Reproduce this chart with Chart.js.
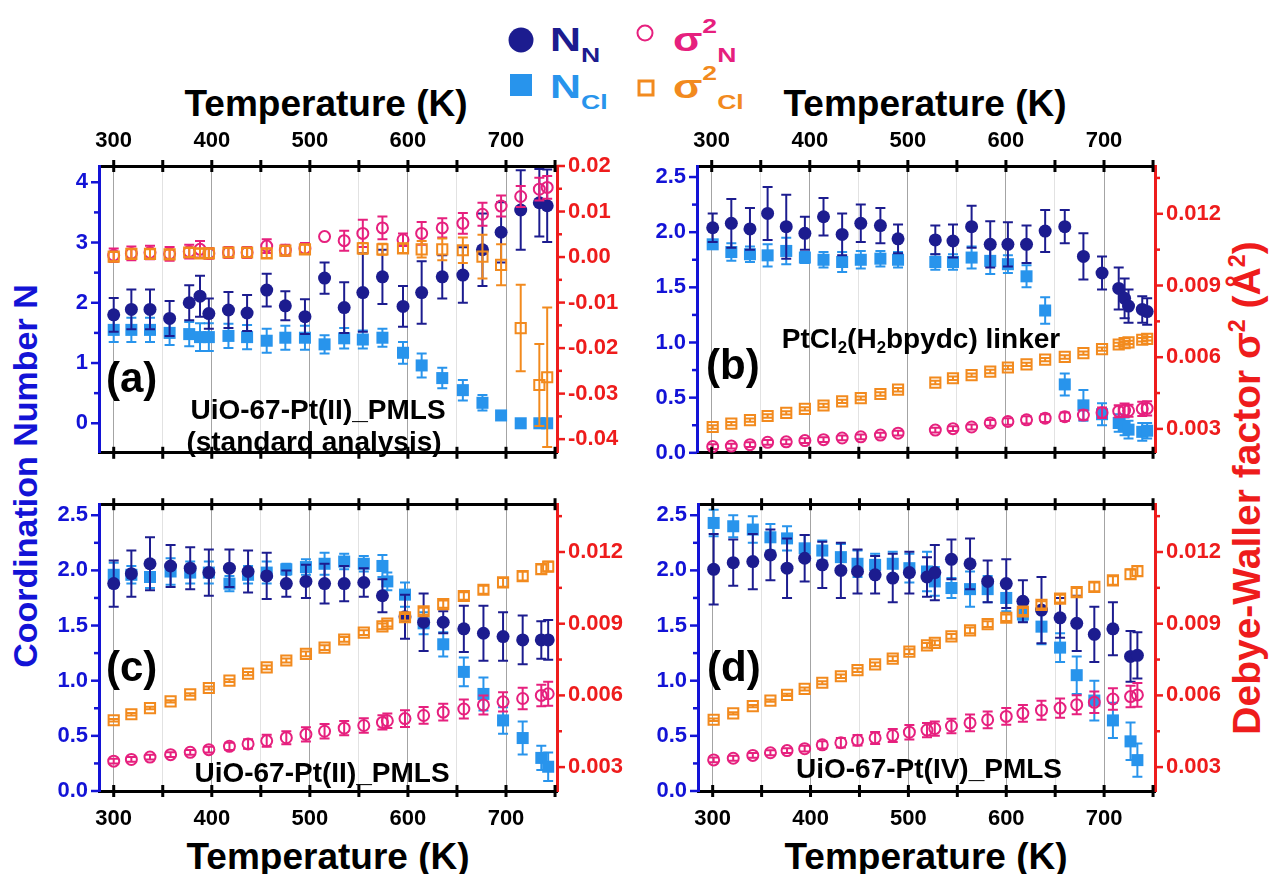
<!DOCTYPE html>
<html lang="en">
<head>
<meta charset="utf-8">
<title>UiO-67-Pt EXAFS fit parameters</title>
<script src="https://cdn.jsdelivr.net/npm/chart.js@4.4.1/dist/chart.umd.min.js"></script>
<style>
  html, body { margin: 0; padding: 0; background: #fff; }
  body { position: relative; width: 1271px; height: 874px; overflow: hidden;
         font-family: "Liberation Sans", Arial, sans-serif; font-weight: bold; }
  canvas { position: absolute; }
  .txt { position: absolute; white-space: nowrap; line-height: 1; transform: translate(-50%, -50%); color: #000; }
  .ttl { font-size: 37px; }
  .tag { font-size: 42px; transform: translate(0, -50%); }
  .name { font-size: 28px; }
  .vert { transform: translate(-50%, -50%) rotate(-90deg); }
  sub { font-size: 0.6em; vertical-align: -0.3em; line-height: 0; }
  sup { font-size: 0.6em; vertical-align: 0.6em; line-height: 0; }
  .leg { position: absolute; font-size: 33px; line-height: 1; white-space: nowrap;
         transform: translateY(-50%) scaleX(1.3); transform-origin: 0 50%; }
  .leg sub { font-size: 0.62em; vertical-align: -0.55em; }
  .leg sup { font-size: 0.62em; vertical-align: 0.85em; }
  .sym { position: absolute; transform: translate(-50%, -50%); box-sizing: border-box; }
</style>
</head>
<body>

<!-- legend -->
<div class="sym" style="left:521px;top:40px;width:25px;height:25px;border-radius:50%;background:#1c1c8f"></div>
<div class="leg" style="left:550px;top:39px;color:#1c1c8f">N<sub>N</sub></div>
<div class="sym" style="left:645px;top:33px;width:17px;height:17px;border-radius:50%;border:2.5px solid #e6207e"></div>
<div class="leg" style="left:673px;top:39px;color:#e6207e">σ<sup>2</sup><sub>N</sub></div>
<div class="sym" style="left:521px;top:85px;width:22px;height:22px;background:#2894ec"></div>
<div class="leg" style="left:550px;top:86px;color:#2894ec">N<sub>Cl</sub></div>
<div class="sym" style="left:646px;top:88px;width:17px;height:17px;border:3px solid #f28a1e"></div>
<div class="leg" style="left:673px;top:86px;color:#f28a1e">σ<sup>2</sup><sub>Cl</sub></div>

<!-- axis titles -->
<div class="txt ttl" style="left:326px;top:103px">Temperature (K)</div>
<div class="txt ttl" style="left:925px;top:103px">Temperature (K)</div>
<div class="txt ttl" style="left:328px;top:856px">Temperature (K)</div>
<div class="txt ttl" style="left:926px;top:856px">Temperature (K)</div>
<div class="txt vert" style="left:25px;top:476px;font-size:34px;color:#1313d6">Coordination Number N</div>
<div class="txt vert" style="left:1246px;top:488px;font-size:39px;color:#ee1c1c">Debye-Waller factor σ<sup>2</sup> (Å<sup>2</sup>)</div>

<script>
// ==========================================
// 1. DATA
// ==========================================

// (a) UiO-67-Pt(II)_PMLS, standard analysis
const tempA   = [300, 318, 337, 357, 377, 388, 397, 417, 436, 456, 475, 495, 515, 535, 554, 574, 595, 614, 635, 656, 676, 695, 715, 734, 742];
const nNA     = [1.80, 1.89, 1.89, 1.74, 2.00, 2.11, 1.82, 1.88, 1.83, 2.21, 1.95, 1.77, 2.41, 1.92, 2.17, 2.43, 1.94, 2.17, 2.43, 2.46, 2.88, 3.17, 3.54, 3.66, 3.61];
const nNErrA  = [0.28, 0.33, 0.33, 0.29, 0.29, 0.34, 0.25, 0.30, 0.30, 0.27, 0.24, 0.29, 0.26, 0.42, 0.65, 0.45, 0.34, 0.52, 0.36, 0.46, 0.60, 0.50, 0.66, 0.56, 0.60];
const nClA    = [1.55, 1.55, 1.55, 1.50, 1.48, 1.43, 1.43, 1.45, 1.43, 1.37, 1.42, 1.42, 1.31, 1.41, 1.39, 1.42, 1.17, 0.96, 0.75, 0.55, 0.34, 0.13, 0.00, 0.00, 0.00];
const nClErrA = [0.20, 0.20, 0.20, 0.20, 0.20, 0.23, 0.23, 0.20, 0.20, 0.20, 0.20, 0.20, 0.15, 0.17, 0.15, 0.15, 0.18, 0.20, 0.17, 0.17, 0.13, 0.05, 0, 0, 0];
const s2NA    = [0.0004, 0.0008, 0.0010, 0.0007, 0.0012, 0.0017, 0.0008, 0.0010, 0.0010, 0.0024, 0.0015, 0.0019, 0.0045, 0.0036, 0.0052, 0.0064, 0.0038, 0.0052, 0.0064, 0.0074, 0.0094, 0.0112, 0.0133, 0.0149, 0.0153];
const s2NErrA = [0.0015, 0.0015, 0.0015, 0.0015, 0.0015, 0.0018, 0.0012, 0.0012, 0.0012, 0.0015, 0.0012, 0.0012, 0, 0.0022, 0.0030, 0.0025, 0.0014, 0.0025, 0.0021, 0.0023, 0.0025, 0.0023, 0.0023, 0.0025, 0.0025];
const s2ClA   = [0.0001, 0.0007, 0.0007, 0.0006, 0.0010, 0.0008, 0.0008, 0.0010, 0.0010, 0.0008, 0.0014, 0.0017, null, null, 0.0019, 0.0017, 0.0019, 0.0017, 0.0017, 0.0015, 0.0001, -0.0017, -0.0156, -0.0281, -0.0264];
const s2ClErrA= [0.0010, 0.0010, 0.0010, 0.0010, 0.0010, 0.0010, 0.0010, 0.0010, 0.0010, 0.0010, 0.0010, 0.0010, null, null, 0.0012, 0.0012, 0.0010, 0.0018, 0.0024, 0.0028, 0.0048, 0.0045, 0.0095, 0.0090, 0.0153];

// (b) PtCl2(H2bpydc) linker
const tempB   = [301, 320, 339, 357, 376, 395, 414, 433, 452, 472, 490, 528, 546, 565, 584, 602, 621, 640, 660, 679, 698, 715, 721, 725, 739, 744];
const nNB     = [2.04, 2.08, 2.03, 2.17, 2.05, 1.99, 2.14, 1.98, 2.08, 2.06, 1.94, 1.93, 1.92, 2.05, 1.89, 1.89, 1.89, 2.01, 2.05, 1.78, 1.63, 1.49, 1.40, 1.33, 1.30, 1.28];
const nNErrB  = [0.13, 0.22, 0.19, 0.24, 0.29, 0.15, 0.17, 0.19, 0.17, 0.16, 0.13, 0.13, 0.15, 0.19, 0.21, 0.20, 0.17, 0.19, 0.15, 0.21, 0.15, 0.19, 0.18, 0.15, 0.12, 0.12];
const nClB    = [1.89, 1.82, 1.80, 1.79, 1.83, 1.77, 1.75, 1.73, 1.75, 1.76, 1.75, 1.73, 1.73, 1.77, 1.74, 1.71, 1.60, 1.29, 0.62, 0.43, 0.35, 0.27, 0.24, 0.21, 0.19, 0.20];
const nClErrB = [0.04, 0.08, 0.07, 0.10, 0.12, 0.05, 0.07, 0.09, 0.08, 0.07, 0.07, 0.07, 0.07, 0.10, 0.12, 0.08, 0.10, 0.12, 0.10, 0.14, 0.10, 0.08, 0.08, 0.08, 0.08, 0.07];
const s2NB    = [0.00226, 0.00228, 0.00234, 0.00244, 0.00246, 0.00251, 0.00255, 0.00262, 0.00267, 0.00274, 0.00282, 0.00295, 0.00301, 0.00308, 0.00325, 0.00331, 0.00338, 0.00345, 0.00351, 0.00358, 0.00368, 0.00374, 0.00378, 0.00376, 0.00384, 0.00386];
const s2NErrB = [0.0001, 0.0001, 0.0001, 0.0001, 0.0001, 0.0001, 0.0001, 0.0001, 0.0001, 0.0001, 0.0001, 0.0001, 0.0001, 0.0001, 0.00012, 0.00014, 0.00015, 0.00016, 0.00018, 0.0002, 0.00022, 0.00025, 0.00028, 0.00025, 0.0003, 0.0003];
const s2ClB   = [0.00308, 0.00322, 0.00337, 0.00354, 0.00367, 0.00384, 0.00398, 0.00415, 0.00429, 0.00446, 0.00464, 0.00494, 0.00512, 0.00525, 0.00540, 0.00557, 0.00570, 0.00590, 0.00601, 0.00617, 0.00634, 0.00653, 0.00659, 0.00662, 0.00673, 0.00677];
const s2ClErrB= [0.00007, 0.00007, 0.00007, 0.00007, 0.00007, 0.00007, 0.00007, 0.00007, 0.00007, 0.00007, 0.00007, 0.00007, 0.00007, 0.00007, 0.00007, 0.00007, 0.00007, 0.00007, 0.00007, 0.00007, 0.00007, 0.00007, 0.00007, 0.00007, 0.00007, 0.00007];

// (c) UiO-67-Pt(II)_PMLS
const tempC   = [300, 318, 337, 358, 378, 397, 418, 437, 456, 476, 496, 515, 535, 555, 574, 579, 597, 616, 636, 657, 677, 697, 717, 736, 743];
const nNC     = [1.88, 1.97, 2.06, 2.04, 2.02, 1.98, 2.02, 1.99, 1.95, 1.88, 1.90, 1.88, 1.88, 1.89, 1.77, null, 1.58, 1.53, 1.53, 1.47, 1.43, 1.40, 1.37, 1.37, 1.37];
const nNErrC  = [0.21, 0.21, 0.24, 0.19, 0.19, 0.21, 0.17, 0.19, 0.21, 0.12, 0.15, 0.18, 0.16, 0.13, 0.15, null, 0.20, 0.26, 0.10, 0.21, 0.25, 0.22, 0.22, 0.17, 0.18];
const nClC    = [1.96, 1.96, 1.94, 1.99, 1.98, 1.98, 1.88, 1.96, 1.98, 2.01, 2.03, 2.06, 2.08, 2.06, 2.04, 1.90, 1.78, 1.52, 1.33, 1.08, 0.88, 0.64, 0.48, 0.30, 0.22];
const nClErrC = [0.11, 0.08, 0.10, 0.12, 0.10, 0.10, 0.07, 0.08, 0.10, 0.05, 0.07, 0.10, 0.07, 0.07, 0.10, 0.08, 0.11, 0.10, 0.11, 0.13, 0.15, 0.12, 0.15, 0.11, 0.13];
const s2NC    = [0.00325, 0.00332, 0.00342, 0.00352, 0.00362, 0.00373, 0.00387, 0.00397, 0.00410, 0.00423, 0.00437, 0.00450, 0.00463, 0.00474, 0.00487, 0.00494, 0.00503, 0.00516, 0.00530, 0.00543, 0.00560, 0.00573, 0.00587, 0.00600, 0.00607];
const s2NErrC = [0.0001, 0.0001, 0.0001, 0.0001, 0.0001, 0.00012, 0.00015, 0.0002, 0.00025, 0.00027, 0.0003, 0.0003, 0.0003, 0.0003, 0.0003, 0.0003, 0.00035, 0.00035, 0.00035, 0.0004, 0.0004, 0.0004, 0.00045, 0.00045, 0.0005];
const s2ClC   = [0.00496, 0.00521, 0.00547, 0.00575, 0.00604, 0.00631, 0.00662, 0.00691, 0.00717, 0.00746, 0.00774, 0.00800, 0.00834, 0.00863, 0.00889, 0.00900, 0.00927, 0.00952, 0.00982, 0.01016, 0.01042, 0.01073, 0.01099, 0.01128, 0.01139];
const s2ClErrC= [0.00005, 0.00005, 0.00005, 0.00005, 0.00005, 0.00006, 0.00006, 0.00007, 0.00008, 0.00008, 0.0001, 0.0001, 0.0001, 0.0001, 0.00012, 0.00012, 0.00014, 0.00015, 0.00015, 0.00016, 0.00017, 0.00018, 0.00018, 0.0002, 0.0002];

// (d) UiO-67-Pt(IV)_PMLS
const tempD   = [301, 321, 341, 359, 376, 394, 412, 431, 448, 466, 484, 501, 519, 527, 544, 563, 581, 600, 617, 636, 655, 672, 690, 709, 727, 734];
const nND     = [2.01, 2.07, 2.08, 2.14, 2.02, 2.11, 2.05, 2.00, 1.99, 1.96, 1.93, 1.98, 1.94, 1.98, 2.10, 2.06, 1.90, 1.88, 1.72, 1.64, 1.57, 1.52, 1.42, 1.47, 1.22, 1.23];
const nNErrD  = [0.32, 0.21, 0.25, 0.23, 0.27, 0.21, 0.21, 0.25, 0.20, 0.17, 0.22, 0.19, 0.18, 0.25, 0.18, 0.23, 0.19, 0.22, 0.19, 0.30, 0.18, 0.25, 0.25, 0.24, 0.23, 0.21];
const nClD    = [2.43, 2.40, 2.37, 2.30, 2.29, 2.20, 2.18, 2.12, 2.06, 2.05, 2.06, 2.02, 1.99, 1.90, 1.84, 1.83, 1.83, 1.75, 1.60, 1.49, 1.30, 1.05, 0.82, 0.64, 0.45, 0.28];
const nClErrD = [0.12, 0.10, 0.12, 0.12, 0.11, 0.12, 0.09, 0.12, 0.12, 0.10, 0.11, 0.13, 0.18, 0.13, 0.09, 0.16, 0.12, 0.12, 0.06, 0.16, 0.13, 0.17, 0.18, 0.16, 0.17, 0.15];
const s2ND    = [0.00330, 0.00337, 0.00349, 0.00360, 0.00369, 0.00377, 0.00393, 0.00402, 0.00412, 0.00422, 0.00432, 0.00446, 0.00455, 0.00461, 0.00472, 0.00485, 0.00498, 0.00512, 0.00525, 0.00538, 0.00547, 0.00561, 0.00571, 0.00585, 0.00595, 0.00602];
const s2NErrD = [0.0001, 0.0001, 0.0001, 0.0001, 0.0001, 0.00012, 0.00015, 0.0002, 0.00022, 0.00025, 0.00027, 0.0003, 0.0003, 0.0003, 0.0003, 0.00035, 0.00035, 0.00035, 0.00035, 0.0004, 0.0004, 0.0004, 0.00045, 0.00045, 0.00045, 0.0005];
const s2ClD   = [0.00498, 0.00525, 0.00555, 0.00578, 0.00602, 0.00627, 0.00653, 0.00680, 0.00706, 0.00730, 0.00754, 0.00783, 0.00809, 0.00820, 0.00847, 0.00872, 0.00898, 0.00925, 0.00951, 0.00979, 0.01005, 0.01032, 0.01054, 0.01081, 0.01107, 0.01120];
const s2ClErrD= [0.00005, 0.00005, 0.00005, 0.00005, 0.00005, 0.00006, 0.00006, 0.00007, 0.00008, 0.00008, 0.0001, 0.0001, 0.0001, 0.0001, 0.0001, 0.00012, 0.00012, 0.00014, 0.00015, 0.00015, 0.00016, 0.00017, 0.00018, 0.00018, 0.0002, 0.0002];

// axis ranges
const xRange = [285, 752];
const xTickLabels = [300, 400, 500, 600, 700];

// ==========================================
// 2. STYLE
// ==========================================
const FONT = '"Liberation Sans", Arial, sans-serif';
const NAVY = '#1c1c8f', SKY = '#2894ec', PINK = '#e6207e', ORANGE = '#f28a1e';
const BLUE = '#1313d6', RED = '#ee1c1c';

const isStep = (v, step) => Math.abs(v / step - Math.round(v / step)) < 1e-6;

// tick values on multiples of step inside [min, max]
function stepTicks(min, max, step) {
    const out = [];
    for (let k = Math.ceil(min / step - 1e-9); k * step <= max + 1e-9 * Math.abs(max || 1); k++) {
        out.push({ value: parseFloat((k * step).toFixed(6)) });
    }
    return out;
}

function pts(t, v) {
    const out = [];
    t.forEach((x, i) => { if (v[i] !== null) out.push({ x: x, y: v[i] }); });
    return out;
}
function errs(v, e) { return e.filter((_, i) => v[i] !== null); }

// datasets: first in list is drawn on top
function makeSets(t, nN, nNe, nCl, nCle, sN, sNe, sCl, sCle) {
    return [
        { label: 'σ2 Cl', data: pts(t, sCl), err: errs(sCl, sCle), yAxisID: 'y1',
          pointStyle: 'rect', pointRadius: 7.2, borderWidth: 2, borderColor: ORANGE, backgroundColor: 'rgba(0,0,0,0)' },
        { label: 'σ2 N', data: pts(t, sN), err: errs(sN, sNe), yAxisID: 'y1',
          pointStyle: 'circle', pointRadius: 5.5, borderWidth: 2, borderColor: PINK, backgroundColor: 'rgba(0,0,0,0)' },
        { label: 'N N', data: pts(t, nN), err: errs(nN, nNe), yAxisID: 'y',
          pointStyle: 'circle', pointRadius: 6.5, borderWidth: 0, borderColor: NAVY, backgroundColor: NAVY },
        { label: 'N Cl', data: pts(t, nCl), err: errs(nCl, nCle), yAxisID: 'y',
          pointStyle: 'rect', pointRadius: 8.5, borderWidth: 0, borderColor: SKY, backgroundColor: SKY }
    ];
}

// ==========================================
// 3. PLUGIN: error bars + tick marks
// ==========================================
const marks = {
    id: 'marks',
    beforeDatasetDraw(chart, args) {
        const ds = chart.data.datasets[args.index];
        if (!ds.err) return;
        const ctx = chart.ctx, a = chart.chartArea;
        const xS = chart.scales.x, yS = chart.scales[ds.yAxisID];
        ctx.save();
        ctx.beginPath();
        ctx.rect(a.left, a.top, a.right - a.left, a.bottom - a.top);
        ctx.clip();
        ctx.strokeStyle = ds.borderColor;
        ctx.lineWidth = 2;
        ds.data.forEach((p, i) => {
            const e = ds.err[i];
            if (!e) return;
            const x = xS.getPixelForValue(p.x);
            const y0 = yS.getPixelForValue(p.y - e), y1 = yS.getPixelForValue(p.y + e);
            ctx.beginPath();
            ctx.moveTo(x, y0); ctx.lineTo(x, y1);
            ctx.moveTo(x - 5, y0); ctx.lineTo(x + 5, y0);
            ctx.moveTo(x - 5, y1); ctx.lineTo(x + 5, y1);
            ctx.stroke();
        });
        ctx.restore();
    },
    afterDraw(chart, args, opts) {
        const ctx = chart.ctx, a = chart.chartArea, s = chart.scales;
        ctx.save();
        // x ticks, crossing the top and bottom axes
        ctx.strokeStyle = '#000';
        ctx.lineWidth = 3;
        for (let v = 300; v <= 750; v += 50) {
            const x = s.x.getPixelForValue(v);
            [a.top, a.bottom].forEach(y => {
                ctx.beginPath(); ctx.moveTo(x, y - 6); ctx.lineTo(x, y + 6); ctx.stroke();
            });
        }
        // y ticks, outward
        const yTicks = (scale, xPos, dir, color, cfg) => {
            const [min, max, major, minor] = cfg;
            ctx.strokeStyle = color;
            ctx.lineWidth = 2.5;
            stepTicks(min, max, minor).forEach(t => {
                const len = isStep(t.value, major) ? 8 : 5;
                const y = scale.getPixelForValue(t.value);
                ctx.beginPath(); ctx.moveTo(xPos, y); ctx.lineTo(xPos + dir * len, y); ctx.stroke();
            });
        };
        yTicks(s.y, a.left, -1, BLUE, opts.yL);
        yTicks(s.y1, a.right, 1, RED, opts.yR);
        ctx.restore();
    }
};

// ==========================================
// 4. PANELS
// ==========================================
const panels = [
    { box: [99, 166, 557, 467], pad: [62, 75, 48, 10], topLabels: true,
      yL: [-0.49, 4.27, 1, 0.5, 0], yR: [-0.043, 0.02, 0.01, 0.005, 2],
      sets: makeSets(tempA, nNA, nNErrA, nClA, nClErrA, s2NA, s2NErrA, s2ClA, s2ClErrA) },
    { box: [697, 166, 1155, 467], pad: [60, 75, 48, 10], topLabels: true,
      yL: [0, 2.6, 0.5, 0.25, 1], yR: [0.002, 0.014, 0.003, 0.0015, 3],
      sets: makeSets(tempB, nNB, nNErrB, nClB, nClErrB, s2NB, s2NErrB, s2ClB, s2ClErrB) },
    { box: [99, 490, 557, 791], pad: [62, 75, 10, 45], topLabels: false,
      yL: [0, 2.6, 0.5, 0.25, 1], yR: [0.002, 0.014, 0.003, 0.0015, 3],
      sets: makeSets(tempC, nNC, nNErrC, nClC, nClErrC, s2NC, s2NErrC, s2ClC, s2ClErrC) },
    { box: [698, 490, 1155, 791], pad: [60, 75, 10, 45], topLabels: false,
      yL: [0, 2.6, 0.5, 0.25, 1], yR: [0.002, 0.014, 0.003, 0.0015, 3],
      sets: makeSets(tempD, nND, nNErrD, nClD, nClErrD, s2ND, s2NErrD, s2ClD, s2ClErrD) }
];

const tickFont = { family: FONT, size: 22, weight: 'bold' };
const xLabel = v => xTickLabels.indexOf(Math.round(v)) >= 0 ? String(Math.round(v)) : '';

function yScale(pos, cfg, color, width) {
    const [min, max, major, , dec] = cfg;
    return {
        type: 'linear', position: pos, min: min, max: max,
        afterFit: s => { s.width = width; },
        afterBuildTicks: s => { s.ticks = stepTicks(min, max, major); },
        border: { display: true, color: color, width: 3 },
        grid: { display: true, drawOnChartArea: false, drawTicks: false },
        ticks: { autoSkip: false, padding: 11, color: color, font: tickFont,
                 callback: v => (Math.abs(v) < 1e-12 ? 0 : v).toFixed(dec) }
    };
}

function xScale(pos, showLabels, height, onArea) {
    return {
        type: 'linear', position: pos, min: xRange[0], max: xRange[1],
        afterFit: s => { s.height = height; },
        afterBuildTicks: s => { s.ticks = stepTicks(300, 700, 50); },
        border: { display: true, color: '#000', width: 3 },
        grid: { display: true, drawOnChartArea: onArea, drawTicks: false, lineWidth: 1,
                color: c => {
                    const v = c.tick ? c.tick.value : 0;
                    return isStep(v, 100) ? '#a4a4a4' : '#e2e2e2';
                } },
        ticks: { display: showLabels, autoSkip: false, maxRotation: 0,
                 padding: pos === 'top' ? 12 : 15, color: '#000', font: tickFont, callback: xLabel }
    };
}

panels.forEach(p => {
    const [l, t, r, b] = p.box, [pl, pr, pt, pb] = p.pad;
    const cv = document.createElement('canvas');
    cv.width = r - l + pl + pr;
    cv.height = b - t + pt + pb;
    cv.style.left = (l - pl) + 'px';
    cv.style.top = (t - pt) + 'px';
    document.body.appendChild(cv);

    new Chart(cv, {
        type: 'scatter',
        data: { datasets: p.sets.map(d => Object.assign(d, { clip: false })) },
        options: {
            responsive: false, animation: false, devicePixelRatio: 1, events: [],
            layout: { padding: 0, autoPadding: false },
            plugins: { legend: { display: false }, tooltip: { enabled: false },
                       marks: { yL: p.yL, yR: p.yR } },
            scales: {
                x: xScale('bottom', !p.topLabels, pb, true),
                x2: xScale('top', p.topLabels, pt, false),
                y: yScale('left', p.yL, BLUE, pl),
                y1: yScale('right', p.yR, RED, pr)
            }
        },
        plugins: [marks]
    });
});
</script>

<!-- panel labels -->
<div class="txt tag" style="left:106px;top:378px">(a)</div>
<div class="txt tag" style="left:706px;top:365px">(b)</div>
<div class="txt tag" style="left:106px;top:667px">(c)</div>
<div class="txt tag" style="left:707px;top:667px">(d)</div>
<div class="txt name" style="left:318px;top:410px">UiO-67-Pt(II)_PMLS</div>
<div class="txt name" style="left:314px;top:442px">(standard analysis)</div>
<div class="txt name" style="left:921px;top:339px">PtCl<sub>2</sub>(H<sub>2</sub>bpydc) linker</div>
<div class="txt name" style="left:322px;top:773px">UiO-67-Pt(II)_PMLS</div>
<div class="txt name" style="left:929px;top:769px">UiO-67-Pt(IV)_PMLS</div>
</body>
</html>
